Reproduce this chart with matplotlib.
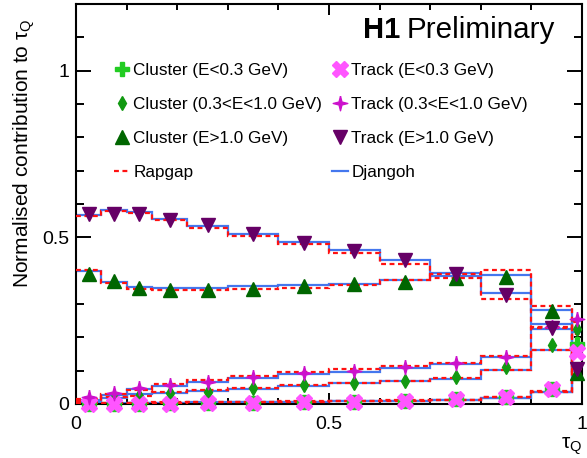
import numpy as np
import matplotlib
matplotlib.use('Agg')
import matplotlib.pyplot as plt
from matplotlib.ticker import MultipleLocator, FuncFormatter
from matplotlib.lines import Line2D

plt.rcParams['font.family'] = ['Liberation Sans', 'DejaVu Sans']
plt.rcParams['mathtext.default'] = 'regular'

# bin edges in tau_Q
edges = np.array([0, 0.05, 0.1, 0.15, 0.22, 0.3, 0.4, 0.5, 0.6, 0.7, 0.8, 0.9, 0.98, 1.0])

# data points (H1)
clus_lo = [0.0, 0.0, 0.0, 0.002, 0.003, 0.004, 0.005, 0.006, 0.008, 0.015, 0.022, 0.045, 0.18]
clus_mid = [0.007, 0.017, 0.024, 0.032, 0.037, 0.047, 0.057, 0.064, 0.070, 0.080, 0.112, 0.176, 0.224]
clus_hi = [0.391, 0.369, 0.348, 0.341, 0.341, 0.344, 0.353, 0.359, 0.366, 0.377, 0.380, 0.278, 0.092]
trk_lo = [0.0, 0.0, 0.0, 0.001, 0.002, 0.004, 0.005, 0.006, 0.008, 0.015, 0.022, 0.044, 0.155]
trk_mid = [0.020, 0.032, 0.047, 0.057, 0.067, 0.082, 0.092, 0.099, 0.110, 0.122, 0.142, 0.232, 0.256]
trk_hi = [0.571, 0.571, 0.569, 0.553, 0.536, 0.511, 0.483, 0.459, 0.431, 0.390, 0.326, 0.228, 0.106]

# Djangoh
dj_clus_lo = [0.002, 0.002, 0.003, 0.004, 0.005, 0.006, 0.007, 0.008, 0.010, 0.012, 0.019, 0.037, 0.17]
dj_clus_mid = [0.010, 0.019, 0.029, 0.032, 0.039, 0.046, 0.055, 0.062, 0.068, 0.075, 0.102, 0.161, 0.215]
dj_clus_hi = [0.398, 0.365, 0.351, 0.348, 0.348, 0.353, 0.356, 0.361, 0.371, 0.384, 0.388, 0.283, 0.10]
dj_trk_lo = [0.001, 0.001, 0.002, 0.003, 0.004, 0.005, 0.006, 0.008, 0.009, 0.012, 0.019, 0.036, 0.15]
dj_trk_mid = [0.013, 0.027, 0.045, 0.055, 0.066, 0.077, 0.089, 0.097, 0.107, 0.119, 0.141, 0.225, 0.25]
dj_trk_hi = [0.568, 0.583, 0.576, 0.556, 0.533, 0.509, 0.486, 0.463, 0.433, 0.394, 0.333, 0.239, 0.11]

# Rapgap
rg_clus_lo = [0.003, 0.003, 0.004, 0.005, 0.006, 0.007, 0.008, 0.009, 0.011, 0.013, 0.020, 0.038, 0.175]
rg_clus_mid = [0.010, 0.022, 0.025, 0.035, 0.043, 0.049, 0.058, 0.064, 0.070, 0.079, 0.103, 0.162, 0.21]
rg_clus_hi = [0.401, 0.363, 0.346, 0.341, 0.341, 0.345, 0.349, 0.356, 0.373, 0.389, 0.401, 0.294, 0.095]
rg_trk_lo = [0.002, 0.002, 0.003, 0.004, 0.005, 0.006, 0.007, 0.009, 0.010, 0.013, 0.020, 0.037, 0.155]
rg_trk_mid = [0.015, 0.030, 0.042, 0.059, 0.072, 0.085, 0.097, 0.105, 0.114, 0.124, 0.143, 0.228, 0.245]
rg_trk_hi = [0.564, 0.579, 0.573, 0.553, 0.528, 0.503, 0.479, 0.453, 0.421, 0.378, 0.314, 0.231, 0.105]

labels = ['Cluster (E<0.3 GeV)', 'Cluster (0.3<E<1.0 GeV)', 'Cluster (E>1.0 GeV)',
          'Track (E<0.3 GeV)', 'Track (0.3<E<1.0 GeV)', 'Track (E>1.0 GeV)']

centers = 0.5 * (edges[1:] + edges[:-1])

star4 = [(0, 1), (0.2, 0.2), (1, 0), (0.2, -0.2), (0, -1), (-0.2, -0.2), (-1, 0), (-0.2, 0.2), (0, 1)]

series = [
    (clus_lo, dj_clus_lo, rg_clus_lo, 'P', 10, '#22cc22'),
    (clus_mid, dj_clus_mid, rg_clus_mid, 'd', 7.5, '#119911'),
    (clus_hi, dj_clus_hi, rg_clus_hi, '^', 10.5, '#006600'),
    (trk_lo, dj_trk_lo, rg_trk_lo, 'X', 11, '#ff55ff'),
    (trk_mid, dj_trk_mid, rg_trk_mid, star4, 10.5, '#cc11cc'),
    (trk_hi, dj_trk_hi, rg_trk_hi, 'v', 10.5, '#660066'),
]

fig = plt.figure(figsize=(5.87, 4.58), dpi=100)
ax = fig.add_axes([0.1295, 0.118, 0.862, 0.873])

blue = '#4477ee'
red = '#ff1111'
for dat, dj, rg, m, ms, c in series:
    ax.stairs(dj, edges, baseline=None, color=blue, lw=1.6, zorder=2)
    ax.stairs(rg, edges, baseline=None, color=red, lw=1.6, ls=(0, (2.2, 1.6)), zorder=3)

handles = []
for (dat, dj, rg, m, ms, c), lab in zip(series, labels):
    h, = ax.plot(centers, dat, ls='none', marker=m, ms=ms, color=c, mec=c,
                 clip_on=False, zorder=5, label=lab)
    handles.append(h)

h_rg = Line2D([], [], color=red, lw=1.6, ls=(0, (2.2, 1.6)))
h_dj = Line2D([], [], color=blue, lw=1.6)
leg_h = handles[:3] + [h_rg] + handles[3:] + [h_dj]
leg_l = labels[:3] + ['Rapgap'] + labels[3:] + ['Djangoh']
ax.legend(leg_h, leg_l, ncol=2, loc='upper left', bbox_to_anchor=(0.0757, 0.852),
          frameon=False, fontsize=12.3, handlelength=0.9, handletextpad=0.21,
          labelspacing=1.11, columnspacing=0.6, borderpad=0, borderaxespad=0)

ax.text(0.640, 0.915, 'H1', transform=ax.transAxes, ha='right', va='baseline',
        fontsize=21, fontweight='bold')
ax.text(0.947, 0.915, 'Preliminary', transform=ax.transAxes, ha='right',
        va='baseline', fontsize=21.3)

ax.set_xlim(0, 1)
ax.set_ylim(0, 1.2)
ax.xaxis.set_major_locator(MultipleLocator(0.5))
ax.xaxis.set_minor_locator(MultipleLocator(0.1))
ax.yaxis.set_major_locator(MultipleLocator(0.5))
ax.yaxis.set_minor_locator(MultipleLocator(0.1))
fmt = FuncFormatter(lambda v, p: '%g' % v)
ax.xaxis.set_major_formatter(fmt)
ax.yaxis.set_major_formatter(fmt)
ax.tick_params(which='both', direction='in', top=True, right=True, width=1.4,
               labelsize=14)
ax.tick_params(axis='x', which='major', length=8, pad=9)
ax.tick_params(axis='x', which='minor', length=4.3)
ax.tick_params(axis='y', which='major', length=11, pad=5)
ax.tick_params(axis='y', which='minor', length=5.5)
for s in ax.spines.values():
    s.set_linewidth(1.5)

ax.set_ylabel(r'Normalised contribution to $\tau_Q$', fontsize=15, loc='top')
ax.yaxis.set_label_coords(-0.077, 0.965)
ax.set_xlabel(r'$\tau_Q$', fontsize=15, loc='right')
ax.xaxis.set_label_coords(1.0, -0.078)

fig.savefig('out.png', dpi=100)
